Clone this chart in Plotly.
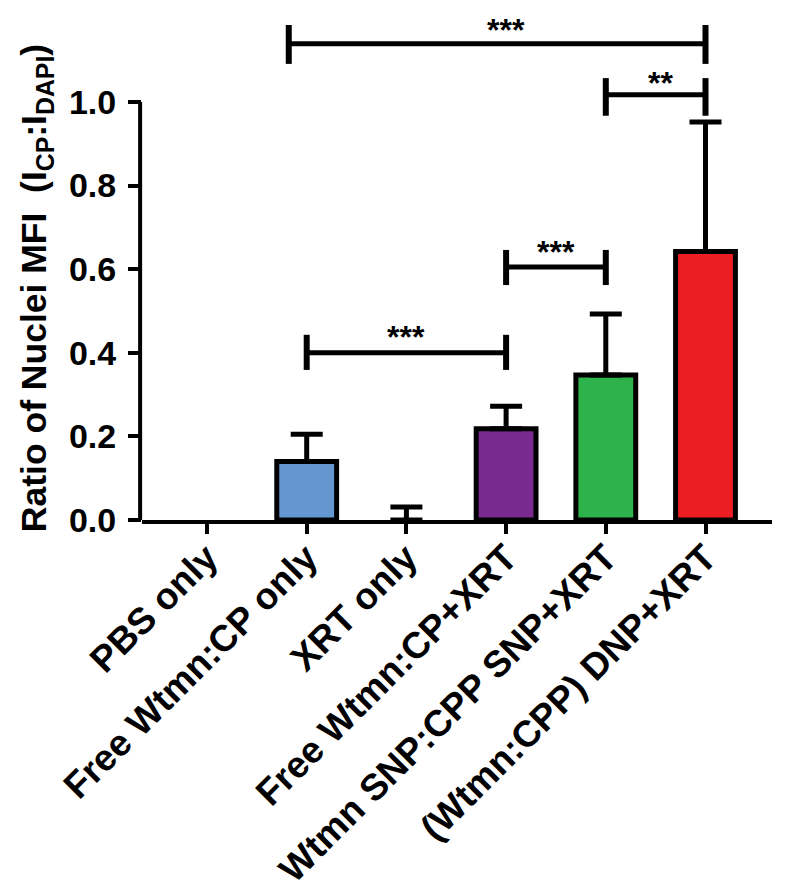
import plotly.graph_objects as go

categories = ["PBS only", "Free Wtmn:CP only", "XRT only", "Free Wtmn:CP+XRT",
              "Wtmn SNP:CPP SNP+XRT", "(Wtmn:CPP) DNP+XRT"]
means = [0.0, 0.14, 0.0, 0.218, 0.347, 0.642]
err_upper = [0.0, 0.065, 0.031, 0.054, 0.146, 0.31]
colors = ["#FFFFFF", "#6497D0", "#FFFFFF", "#782A8E", "#2EB24B", "#EC1E24"]

# significance brackets: (x_start, x_end, y_line, y_tick_low, y_tick_high, label, label_x, label_y)
brackets = [
    (1, 3, 0.400, 0.359, 0.443, "***", 2.0, 0.437),
    (3, 4, 0.605, 0.562, 0.646, "***", 3.5, 0.640),
    (4, 5, 1.017, 0.967, 1.057, "**", 4.55, 1.045),
    (0.82, 5, 1.139, 1.091, 1.184, "***", 3.0, 1.172),
]
yticks = [0.0, 0.2, 0.4, 0.6, 0.8, 1.0]

FONT = "Liberation Sans, Arial, Helvetica, sans-serif"
x_idx = list(range(len(categories)))
line_widths = [5 if m > 0 else 0 for m in means]

fig = go.Figure()
fig.add_trace(go.Bar(
    x=x_idx, y=means, width=0.6,
    marker=dict(color=colors, line=dict(color="black", width=line_widths)),
    showlegend=False, hoverinfo="skip",
))

# error bars (upper only), drawn only where an error exists
err_idx = [i for i, e in enumerate(err_upper) if e > 0]
fig.add_trace(go.Scatter(
    x=[x_idx[i] for i in err_idx], y=[means[i] for i in err_idx], mode="markers",
    marker=dict(size=1, opacity=0),
    error_y=dict(type="data", array=[err_upper[i] for i in err_idx],
                 arrayminus=[0] * len(err_idx), symmetric=False,
                 thickness=5, width=16, color="black"),
    showlegend=False, cliponaxis=False,
))

shapes = []
annotations = []
for (xs, xe, yl, ylo, yhi, lab, lx, ly) in brackets:
    shapes.append(dict(type="line", xref="x", yref="y", x0=xs, x1=xe, y0=yl, y1=yl,
                       line=dict(color="black", width=5)))
    shapes.append(dict(type="line", xref="x", yref="y", x0=xs, x1=xs, y0=ylo, y1=yhi,
                       line=dict(color="black", width=6)))
    shapes.append(dict(type="line", xref="x", yref="y", x0=xe, x1=xe, y0=ylo, y1=yhi,
                       line=dict(color="black", width=6)))
    annotations.append(dict(x=lx, y=ly, xref="x", yref="y", text=f"<b>{lab}</b>",
                            showarrow=False, xanchor="center", yanchor="middle",
                            font=dict(family=FONT, size=32, color="black")))

# y axis line from 0 to 1.0 only
shapes.append(dict(type="line", xref="paper", yref="y", x0=-0.003, x1=-0.003, y0=0, y1=1.0,
                   line=dict(color="black", width=4)))

annotations.append(dict(
    x=-0.168, y=0.464, xref="paper", yref="paper",
    text="<b>Ratio of Nuclei MFI\u00a0\u00a0(I<sub>CP</sub>:I<sub>DAPI</sub>)</b>",
    textangle=-90, showarrow=False, xanchor="center", yanchor="middle",
    font=dict(family=FONT, size=35.5, color="black")))

fig.update_layout(
    width=791, height=891,
    margin=dict(l=134, r=27, t=12, b=379),
    paper_bgcolor="white", plot_bgcolor="white",
    shapes=shapes, annotations=annotations,
    xaxis=dict(range=[-0.652, 5.667], tickmode="array", tickvals=x_idx,
               ticktext=[f"<b>{c}</b>" for c in categories], tickangle=-45,
               showline=True, linewidth=4, linecolor="black",
               ticks="outside", ticklen=10, tickwidth=4, tickcolor="black",
               ticklabelstandoff=-13,
               showgrid=False, zeroline=False, automargin=False,
               tickfont=dict(family=FONT, size=37, color="black")),
    yaxis=dict(range=[0, 1.196], tickmode="array", tickvals=yticks,
               ticktext=[f"<b>{v:.1f}</b>" for v in yticks],
               showline=False, ticks="outside", ticklen=13, tickwidth=4, tickcolor="black",
               ticklabelstandoff=5,
               showgrid=False, zeroline=False, automargin=False,
               tickfont=dict(family=FONT, size=34, color="black")),
)

fig.write_html("out.html")
